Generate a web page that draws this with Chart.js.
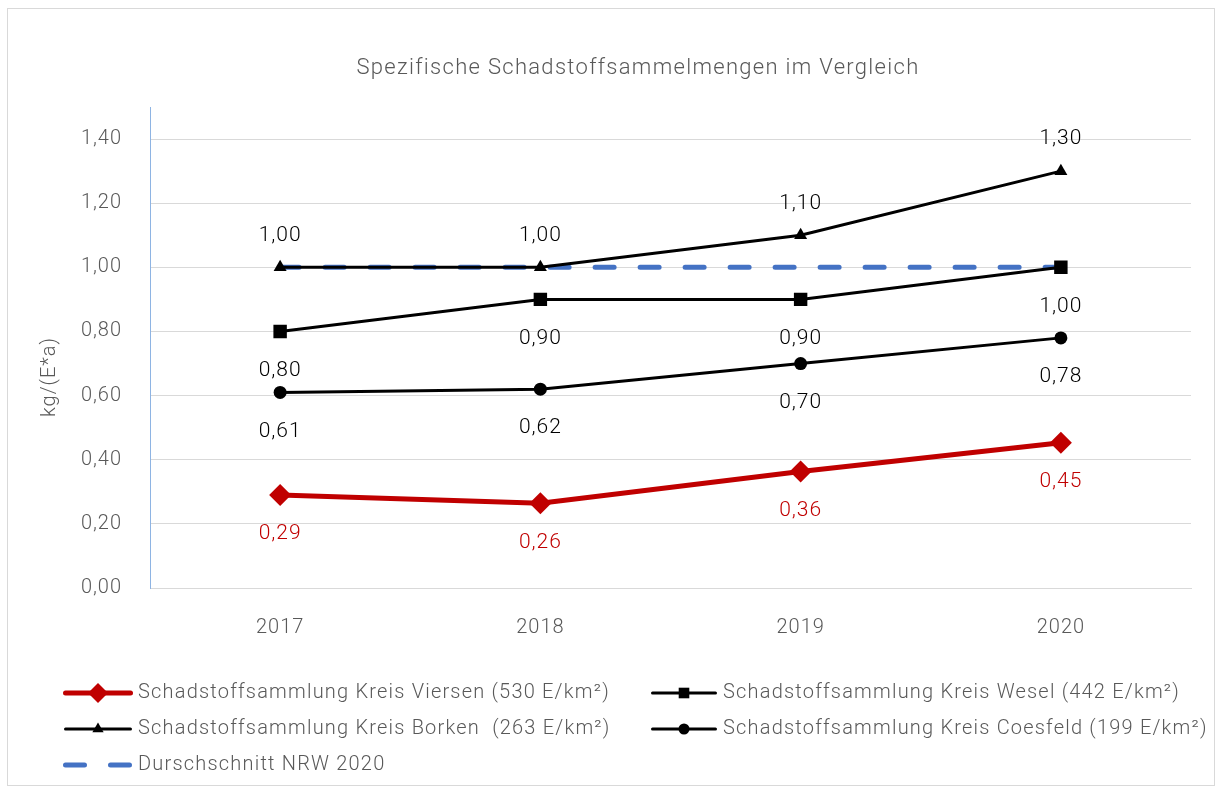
<!DOCTYPE html>
<html>
<head>
<meta charset="utf-8">
<script src="https://cdn.jsdelivr.net/npm/chart.js@4.4.1/dist/chart.umd.min.js"></script>
<style>
  html, body { margin: 0; padding: 0; background: #fff; }
  canvas { display: block; }
</style>
</head>
<body>
<canvas id="chart" width="1221" height="789"></canvas>
<script>
// values
const years = ['2017', '2018', '2019', '2020'];
const viersen = [0.29, 0.264, 0.363, 0.453];
const wesel = [0.80, 0.90, 0.90, 1.00];
const borken = [1.00, 1.00, 1.10, 1.30];
const coesfeld = [0.61, 0.62, 0.70, 0.78];
const nrw = [1.00, 1.00, 1.00, 1.00];
const yTicks = [0, 0.2, 0.4, 0.6, 0.8, 1.0, 1.2, 1.4];

const FONT = 'Roboto';
const GREY = '#595959';
const RED = '#C00000';
const BLUE = '#4472C4';

const fmt = v => v.toFixed(2).replace('.', ',');

// labelPos: where the value label goes, above or below the point
const datasets = [
  { label: 'Schadstoffsammlung Kreis Viersen (530 E/km²)', data: viersen, borderColor: RED, backgroundColor: RED,
    borderWidth: 5, pointStyle: 'rectRot', pointRadius: 11, labelPos: 'below', labelColor: RED, legendMarker: 10 },
  { label: 'Schadstoffsammlung Kreis Wesel (442 E/km²)', data: wesel, borderColor: '#000', backgroundColor: '#000',
    borderWidth: 3, pointStyle: 'rect', pointRadius: 9.5, labelPos: 'below', labelColor: '#000', legendMarker: 7.5 },
  { label: 'Schadstoffsammlung Kreis Borken  (263 E/km²)', data: borken, borderColor: '#000', backgroundColor: '#000',
    borderWidth: 3, pointStyle: 'triangle', pointRadius: 7.5, labelPos: 'above', labelColor: '#000', legendMarker: 6.5 },
  { label: 'Schadstoffsammlung Kreis Coesfeld (199 E/km²)', data: coesfeld, borderColor: '#000', backgroundColor: '#000',
    borderWidth: 3, pointStyle: 'circle', pointRadius: 6.5, labelPos: 'below', labelColor: '#000', legendMarker: 5.5 },
  { label: 'Durschschnitt NRW 2020', data: nrw, borderColor: BLUE, backgroundColor: BLUE,
    borderWidth: 5, borderDash: [19, 26], borderCapStyle: 'round', pointRadius: 0, labelPos: null }
];
datasets.forEach(d => { d.pointBorderWidth = 0; d.pointHoverRadius = d.pointRadius; d.tension = 0; d.fill = false; });

// white background, thin frame, title and y axis title
const frame = {
  id: 'frame',
  beforeDraw(chart) {
    const ctx = chart.ctx;
    ctx.save();
    ctx.fillStyle = '#fff';
    ctx.fillRect(0, 0, chart.width, chart.height);
    ctx.strokeStyle = '#d9d9d9';
    ctx.lineWidth = 1;
    ctx.strokeRect(7.5, 8.5, 1207, 777);

    ctx.fillStyle = GREY;
    ctx.textAlign = 'center';
    ctx.textBaseline = 'middle';
    ctx.font = '300 22px ' + FONT;
    ctx.letterSpacing = '1.3px';
    ctx.fillText('Spezifische Schadstoffsammelmengen im Vergleich', 638, 68);

    ctx.font = '300 20px ' + FONT;
    ctx.letterSpacing = '1px';
    ctx.translate(50, 377);
    ctx.rotate(-Math.PI / 2);
    ctx.fillText('kg/(E*a)', 0, 0);
    ctx.restore();
    // tick labels drawn by the scales get a little spacing too
    ctx.letterSpacing = '1px';
  }
};

// value labels next to the points
const valueLabels = {
  id: 'valueLabels',
  afterDatasetsDraw(chart) {
    const ctx = chart.ctx;
    ctx.save();
    ctx.font = '300 21px ' + FONT;
    ctx.letterSpacing = '1px';
    ctx.textAlign = 'center';
    ctx.textBaseline = 'middle';
    chart.data.datasets.forEach((ds, i) => {
      if (!ds.labelPos) return;
      chart.getDatasetMeta(i).data.forEach((pt, j) => {
        const dy = ds.labelPos === 'above' ? -32 : 39;
        ctx.fillStyle = ds.labelColor;
        ctx.fillText(fmt(ds.data[j]), pt.x, pt.y + dy);
      });
    });
    ctx.restore();
  }
};

function marker(ctx, style, x, y, r) {
  ctx.beginPath();
  if (style === 'rectRot') {
    ctx.moveTo(x - r, y); ctx.lineTo(x, y - r); ctx.lineTo(x + r, y); ctx.lineTo(x, y + r);
  } else if (style === 'rect') {
    const s = r * Math.SQRT1_2;
    ctx.rect(x - s, y - s, 2 * s, 2 * s);
  } else if (style === 'triangle') {
    ctx.moveTo(x, y - r); ctx.lineTo(x + r * 0.866, y + r / 2); ctx.lineTo(x - r * 0.866, y + r / 2);
  } else if (style === 'circle') {
    ctx.arc(x, y, r, 0, Math.PI * 2);
  }
  ctx.closePath();
  ctx.fill();
}

// two-column legend like the original
const legend2 = {
  id: 'legend2',
  afterDraw(chart) {
    const ctx = chart.ctx;
    const cols = [63, 650];
    const rows = [693, 729, 765];
    ctx.save();
    ctx.font = '300 20px ' + FONT;
    ctx.letterSpacing = '1.2px';
    ctx.textBaseline = 'middle';
    chart.data.datasets.forEach((ds, i) => {
      const x = cols[i % 2], y = rows[Math.floor(i / 2)];
      const len = i % 2 === 0 ? 70 : 68;
      ctx.strokeStyle = ds.borderColor;
      ctx.lineWidth = ds.borderWidth;
      ctx.lineCap = 'round';
      ctx.setLineDash(ds.borderDash || []);
      ctx.beginPath();
      ctx.moveTo(x + 2.5, y);
      ctx.lineTo(x + len - 2.5, y);
      ctx.stroke();
      ctx.setLineDash([]);
      if (ds.pointRadius) {
        ctx.fillStyle = ds.backgroundColor;
        marker(ctx, ds.pointStyle, x + len / 2, y, ds.legendMarker);
      }
      ctx.fillStyle = GREY;
      ctx.fillText(ds.label, x + len + 5, y);
    });
    ctx.restore();
  }
};

new Chart(document.getElementById('chart'), {
  type: 'line',
  data: { labels: years, datasets: datasets },
  options: {
    responsive: false,
    animation: false,
    layout: { padding: { left: 38, right: 30, top: 107, bottom: 141 } },
    plugins: {
      legend: { display: false },
      tooltip: { enabled: false },
      title: { display: false }
    },
    scales: {
      x: {
        offset: true,
        grid: { display: false, drawTicks: false },
        border: { color: '#d9d9d9', width: 1 },
        ticks: { color: GREY, font: { family: FONT, size: 20, weight: '300' }, padding: 28 },
        afterFit(s) { s.height = 60; }
      },
      y: {
        min: 0,
        max: 1.5,
        afterBuildTicks(s) { s.ticks = yTicks.map(v => ({ value: v })); },
        grid: { color: '#d9d9d9', drawTicks: false },
        border: { color: '#8EB4E3', width: 1 },
        ticks: { color: GREY, font: { family: FONT, size: 20, weight: '300' }, padding: 28, callback: v => fmt(v) },
        afterFit(s) { s.width = 112; }
      }
    }
  },
  plugins: [frame, valueLabels, legend2]
});
</script>
</body>
</html>
